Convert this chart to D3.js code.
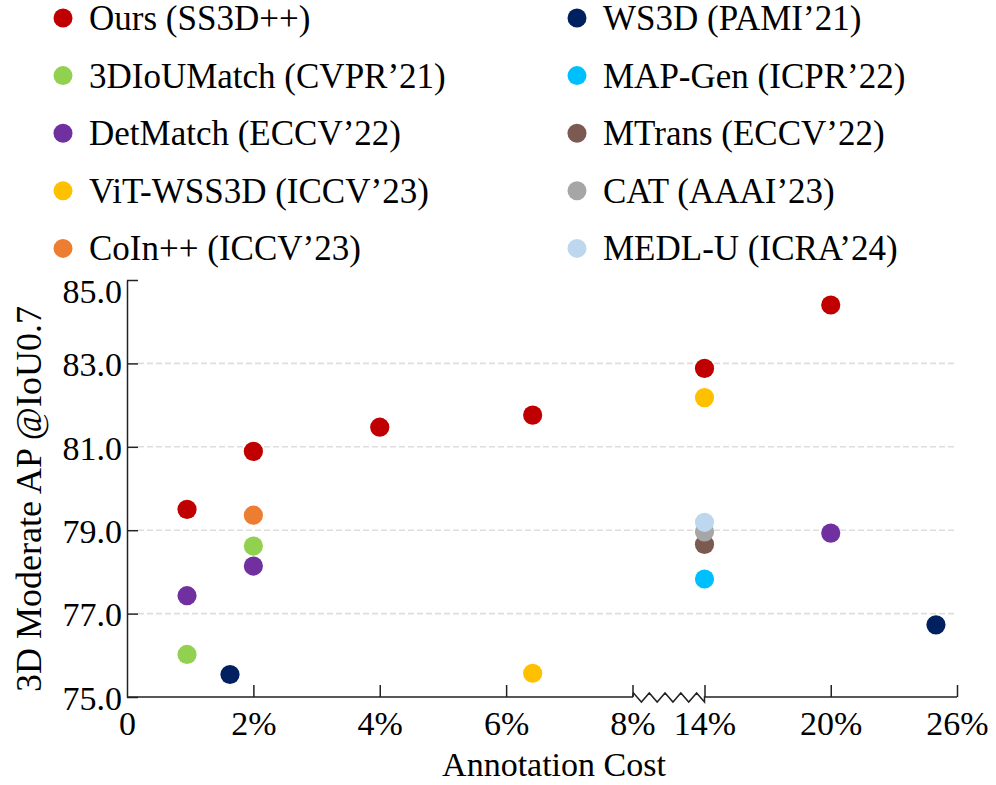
<!DOCTYPE html>
<html>
<head>
<meta charset="utf-8">
<script src="https://cdn.jsdelivr.net/npm/d3@7"></script>
<style>
  html, body { margin: 0; padding: 0; background: #fff; }
  svg { display: block; }
  text { font-family: "Liberation Serif", "Times New Roman", Times, serif; fill: #000; }
</style>
</head>
<body>
<svg id="chart" width="996" height="785"></svg>
<script>
// ---- data ----
const methods = [
  "Ours (SS3D++)", "3DIoUMatch (CVPR’21)", "DetMatch (ECCV’22)", "ViT-WSS3D (ICCV’23)", "CoIn++ (ICCV’23)",
  "WS3D (PAMI’21)", "MAP-Gen (ICPR’22)", "MTrans (ECCV’22)", "CAT (AAAI’23)", "MEDL-U (ICRA’24)"
];
const colors = ["#c00000", "#92d050", "#7030a0", "#ffc000", "#ed7d31",
                "#002060", "#00bfff", "#7b5b51", "#a6a6a6", "#bdd7ee"];
// points per method: [annotation cost %, AP]
const oursPts      = [[0.95, 79.50], [2, 80.89], [4, 81.47], [6.42, 81.76], [14, 82.88], [20, 84.40]];
const iouMatchPts  = [[0.95, 76.02], [2, 78.62]];
const detMatchPts  = [[0.95, 77.43], [2, 78.14], [20, 78.93]];
const vitPts       = [[6.42, 75.57], [14, 82.18]];
const coinPts      = [[2, 79.36]];
const ws3dPts      = [[1.63, 75.54], [25, 76.73]];
const mapGenPts    = [[14, 77.83]];
const mtransPts    = [[14, 78.66]];
const catPts       = [[14, 78.96]];
const medluPts     = [[14, 79.19]];
const seriesPts = [oursPts, iouMatchPts, detMatchPts, vitPts, coinPts, ws3dPts, mapGenPts, mtransPts, catPts, medluPts];

const xTickValues = [0, 2, 4, 6, 8, 14, 20, 26];
const xTickLabels = ["0", "2%", "4%", "6%", "8%", "14%", "20%", "26%"];
const yTickValues = [75, 77, 79, 81, 83, 85];
const gridValues  = [77, 79, 81, 83];
const xBreak = [8, 14];

(function () {
// ---- layout ----
const svg = d3.select("#chart");
const mLeft = 127, mBottom = 697, mTop = 280, mRight = 957;
const x = d3.scaleLinear().domain([0, 8, 14, 26]).range([mLeft, 632.5, 704.5, mRight]);
const y = d3.scaleLinear().domain([75, 85]).range([mBottom, mTop]);
const axisColor = "#222";
const serif = '"Liberation Serif", "Times New Roman", serif';

// grid
svg.append("g").selectAll("line").data(gridValues).join("line")
  .attr("x1", mLeft + 11).attr("x2", mRight)
  .attr("y1", d => y(d)).attr("y2", d => y(d))
  .attr("stroke", "#dedede").attr("stroke-width", 1.6)
  .attr("stroke-dasharray", "6,3");

// y axis
const yAxis = d3.axisLeft(y).tickValues(yTickValues).tickFormat(d3.format(".1f"))
  .tickSizeInner(-11).tickSizeOuter(0).tickPadding(6);
const gy = svg.append("g").attr("transform", `translate(${mLeft},0)`).call(yAxis);
gy.select(".domain").attr("stroke", axisColor).attr("stroke-width", 1.5);
gy.selectAll(".tick line").attr("stroke", axisColor).attr("stroke-width", 1.5);
gy.selectAll(".tick text").attr("font-size", 34).attr("x", -5)
  .attr("font-family", serif).attr("fill", "#000")
  .attr("dy", d => d === 85 ? "0.65em" : "0.36em");

// x axis (broken)
const xAxis = d3.axisBottom(x).tickValues(xTickValues)
  .tickFormat((d, i) => xTickLabels[i]).tickSizeInner(-12).tickSizeOuter(0).tickPadding(14);
const gx = svg.append("g").attr("transform", `translate(0,${mBottom})`).call(xAxis);
gx.select(".domain").remove();
gx.selectAll(".tick line").attr("stroke", axisColor).attr("stroke-width", 1.5)
  .filter(d => d === 0).remove();
gx.selectAll(".tick text").attr("font-size", 34)
  .attr("font-family", serif).attr("fill", "#000");

// axis baseline with zigzag in the break
const xb0 = x(xBreak[0]), xb1 = x(xBreak[1]);
const zig = [[mLeft, 0], [xb0, 0], [xb0 + 1, -4]];
const nZ = 9;
for (let i = 1; i <= nZ; i++) {
  const px = xb0 + 1 + (xb1 - xb0 - 1) * i / nZ;
  zig.push([px, i % 2 === 1 ? 5 : -4]);
}
zig.push([xb1, 0], [mRight, 0]);
gx.append("path")
  .attr("d", d3.line()(zig))
  .attr("fill", "none").attr("stroke", axisColor).attr("stroke-width", 1.5);

// axis titles
svg.append("text").attr("x", 554).attr("y", 776).attr("text-anchor", "middle")
  .attr("font-size", 34).text("Annotation Cost");
svg.append("text").attr("transform", "translate(41,499) rotate(-90)")
  .attr("text-anchor", "middle").attr("font-size", 36).text("3D Moderate AP @IoU0.7");

// points
const pts = [];
seriesPts.forEach((arr, si) => arr.forEach(p => pts.push({ s: si, x: p[0], y: p[1] })));
svg.append("g").selectAll("circle").data(pts).join("circle")
  .attr("cx", d => x(d.x)).attr("cy", d => y(d.y)).attr("r", 9.6)
  .attr("fill", d => colors[d.s]);

// legend
const legend = svg.append("g");
methods.forEach((m, i) => {
  const col = Math.floor(i / 5), row = i % 5;
  const cx = col === 0 ? 63 : 577;
  const cy = 18 + row * 57.6;
  legend.append("circle").attr("cx", cx).attr("cy", cy).attr("r", 9.5).attr("fill", colors[i]);
  legend.append("text").attr("x", col === 0 ? 89 : 603).attr("y", cy + 12)
    .attr("font-size", 35).text(m);
});
})();
</script>
</body>
</html>
